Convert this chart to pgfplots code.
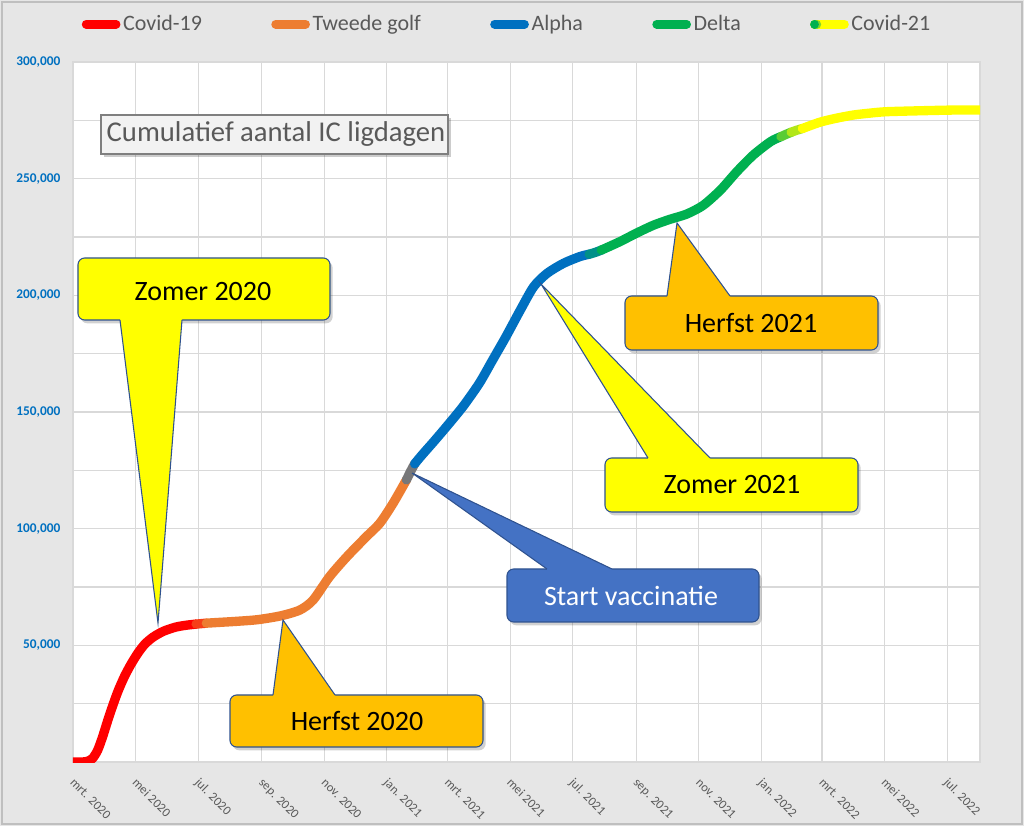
\documentclass[border=0pt]{standalone}
\usepackage{pgfplots}
\pgfplotsset{compat=1.18}
\usepackage{fontspec}
\setmainfont{Carlito}
\usetikzlibrary{calc}

\definecolor{cred}{HTML}{FF0000}
\definecolor{corange}{HTML}{ED7D31}
\definecolor{cblue}{HTML}{0070C0}
\definecolor{cgreen}{HTML}{00B050}
\definecolor{cyellow}{HTML}{FFFF00}
\definecolor{bggray}{HTML}{E6E6E6}
\definecolor{gridgray}{HTML}{D9D9D9}
\definecolor{txtgray}{HTML}{595959}
\definecolor{amber}{HTML}{FFC000}
\definecolor{boxblue}{HTML}{4472C4}
\definecolor{calloutline}{HTML}{2F528F}
\definecolor{titlefill}{HTML}{F2F2F2}
\definecolor{titleline}{HTML}{7F7F7F}

% callout: fill, box corner, box corner, pointer base 1, tip, pointer base 2, inward shift
\newcommand{\callout}[7]{%
  \fill[black,opacity=0.18,xshift=2pt,yshift=-2.5pt,rounded corners=5pt] (#2) rectangle (#3);
  \filldraw[fill=#1,draw=calloutline,line width=0.8pt,rounded corners=5pt] (#2) rectangle (#3);
  \fill[#1] (#4) -- (#5) -- (#6) -- ($(#6)+(0,#7)$) -- ($(#4)+(0,#7)$) -- cycle;
  \draw[calloutline,line width=0.8pt] (#4) -- (#5) -- (#6);
}

\begin{document}
\begin{tikzpicture}
% page background, in pixels of the reference
\begin{scope}[x=0.75pt,y=-0.75pt,shift={(-54.75pt,571.5pt)}]
  \fill[bggray] (0,0) rectangle (1024,826);
  \draw[black!25,line width=1pt] (2,2) rectangle (1022,824);
\end{scope}

\begin{axis}[
  at={(0pt,0pt)}, anchor=south west,
  scale only axis, width=680.25pt, height=525pt,
  xmin=0, xmax=884, ymin=0, ymax=300000,
  axis background/.style={fill=white},
  axis line style={gridgray,line width=0.8pt},
  xtick={0,61,122,184,245,306,365,426,487,549,610,671,730,791,852},
  xticklabels={mrt. 2020,mei 2020,jul. 2020,sep. 2020,nov. 2020,jan. 2021,mrt. 2021,mei 2021,jul. 2021,sep. 2021,nov. 2021,jan. 2022,mrt. 2022,mei 2022,jul. 2022},
  ytick={50000,100000,...,300000},
  minor ytick={25000,75000,...,275000},
  grid=both,
  major grid style={gridgray,line width=0.8pt},
  minor grid style={gridgray,line width=0.8pt},
  tick style={draw=none},
  scaled y ticks=false,
  yticklabel style={/pgf/number format/fixed,/pgf/number format/1000 sep={,},
    /pgf/number format/assume math mode=true,
    text=cblue,font=\bfseries\fontsize{10}{12}\selectfont,xshift=-6pt},
  xticklabel style={rotate=-45,anchor=north west,text=txtgray,
    font=\fontsize{9.5}{11}\selectfont,xshift=6pt,yshift=-3.5pt},
  legend columns=5,
  legend style={at={(0.005,1.054)},anchor=west,draw=none,fill=none,
    font=\fontsize{16.5}{19}\selectfont,text=txtgray,
    /tikz/every even column/.append style={column sep=50pt}},
  legend image code/.code={\draw[#1,line width=6.5pt,line cap=round] (3.25pt,0pt) -- (25.75pt,0pt);},
  every axis plot/.append style={line width=7pt,line join=round,line cap=round,smooth,tension=0.45},
]
\addplot[cred] coordinates {
  (0,0) (9,0) (14,300) (19,1500) (24,5000) (29,11000) (34,18000) (39,24500)
  (44,30500) (50,36500) (56,41500) (63,46500) (70,50500) (78,53500) (88,56000)
  (100,57800) (110,58600) (120,59100)
};
\addlegendentry{Covid-19}
\addplot[cred!50!corange,forget plot] coordinates {(120,59100) (125,59300) (130,59500)};
\addplot[corange] coordinates {
  (130,59500) (145,59900) (160,60300) (180,61000) (202,62600) (221,65100)
  (234,69400) (250,79400) (267,88000) (286,96600) (299,102300) (312,110900)
  (325,120900)
};
\addlegendentry{Tweede golf}
\addplot[corange!50!cblue,forget plot] coordinates {(325,120900) (329,124500) (333,127800)};
\addplot[cblue] coordinates {
  (333,127800) (340,131500) (352,137500) (364,143700) (380,152300) (396,162300)
  (409,172300) (422,182300) (436,193700) (449,203700) (462,209400) (478,213700)
  (494,216600) (503,217600)
};
\addlegendentry{Alpha}
\addplot[cblue!50!cgreen,forget plot] coordinates {(503,217600) (509,218400) (515,219400)};
\addplot[cgreen] coordinates {
  (515,219400) (533,223000) (549,226600) (566,230100) (582,232600) (598,234800)
  (614,238500) (631,245100) (647,253000) (663,260100) (680,265900) (690,268000)
};
\addlegendentry{Delta}
\addplot[cgreen!65!cyellow,forget plot] coordinates {(690,268000) (695,269000) (700,269900)};
\addplot[cgreen!30!cyellow,forget plot] coordinates {(700,269900) (705,270700) (711,271500)};
\addplot[cyellow,
  legend image code/.code={
    \draw[cyellow,line width=6.5pt,line cap=round] (3.25pt,0pt) -- (25.75pt,0pt);
    \draw[cgreen!50!cyellow,line width=6.5pt,line cap=round] (3.25pt,0pt) -- (5pt,0pt);
    \draw[cgreen,line width=6.5pt,line cap=round] (3.25pt,0pt) -- (3.3pt,0pt);}]
  coordinates {
  (711,271500) (728,274200) (744,275900) (761,277300) (777,278100)
  (793,278700) (826,279100) (858,279400) (884,279400)
};
\addlegendentry{Covid-21}
\end{axis}

% annotations, in pixels of the reference
\begin{scope}[x=0.75pt,y=-0.75pt,shift={(-54.75pt,571.5pt)}]
  \fill[black,opacity=0.2,xshift=2pt,yshift=-2.5pt] (101,115) rectangle (448,154);
  \filldraw[fill=titlefill,draw=titleline,line width=1.5pt] (101,115) rectangle (448,154);
  \node[text=txtgray,font=\fontsize{21.5}{24}\selectfont] at (276,134.5) {Cumulatief aantal IC ligdagen};

  \callout{cyellow}{78,258}{330,320}{120,320}{158,623}{182,320}{-3}
  \node[font=\fontsize{21}{24}\selectfont] at (203,292) {Zomer 2020};

  \callout{amber}{230,695}{483,747}{273,695}{283,620}{335,695}{3}
  \node[font=\fontsize{21}{24}\selectfont] at (357,721) {Herfst 2020};

  \callout{boxblue}{507,569}{759,622}{547,569}{412,473}{612,569}{3}
  \node[text=white,font=\fontsize{21}{24}\selectfont] at (631,595.5) {Start vaccinatie};

  \callout{cyellow}{605,458}{858,512}{648,458}{541,284}{710,458}{3}
  \node[font=\fontsize{21}{24}\selectfont] at (732,485) {Zomer 2021};

  \callout{amber}{625,296}{878,350}{667,296}{677,223}{730,296}{3}
  \node[font=\fontsize{21}{24}\selectfont] at (751,323) {Herfst 2021};
\end{scope}
\end{tikzpicture}
\end{document}
